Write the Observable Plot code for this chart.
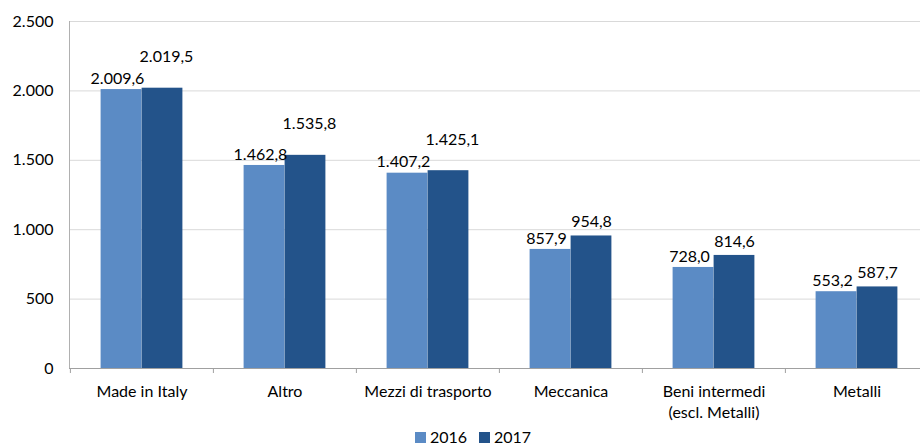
<!DOCTYPE html>
<html>
<head>
<meta charset="utf-8">
<script src="https://cdn.jsdelivr.net/npm/d3@7"></script>
<script src="https://cdn.jsdelivr.net/npm/@observablehq/plot@0.6"></script>
<style>
  body { margin: 0; background: #fff; font-family: Lato, "Open Sans", sans-serif; }
  #wrap { width: 920px; height: 445px; position: relative; overflow: hidden; }
  #legend { position: absolute; top: 429px; left: 0; width: 920px; height: 16px; display: flex; justify-content: center; align-items: center; font-size: 16px; color: #000; line-height: 16px; padding-left: 26px; box-sizing: border-box; }
  .sw { display: inline-block; width: 11px; height: 11px; margin-right: 4px; }
  .item { display: flex; align-items: center; margin: 0 6px; }
</style>
</head>
<body>
<div id="wrap"><div id="chart"></div><div id="legend"></div></div>
<script>
const categories = ["Made in Italy", "Altro", "Mezzi di trasporto", "Meccanica", "Beni intermedi\n(escl. Metalli)", "Metalli"];
const years = ["2016", "2017"];
const values2016 = [2009.6, 1462.8, 1407.2, 857.9, 728.0, 553.2];
const values2017 = [2019.5, 1535.8, 1425.1, 954.8, 814.6, 587.7];
const yTicks = [0, 500, 1000, 1500, 2000, 2500];
const colors = ["#5b8bc5", "#23538a"];

const it = d3.formatLocale({decimal: ",", thousands: ".", grouping: [3], currency: ["€", ""]});
const fmtVal = it.format(",.1f");
const fmtTick = it.format(",d");

const d2016 = categories.map((c, i) => ({category: c, year: "2016", value: values2016[i]}));
const d2017 = categories.map((c, i) => ({category: c, year: "2017", value: values2017[i]}));

const W = 920, H = 428, mL = 69, mR = 0, mT = 21, mB = 60;
const xRange = [69.4, 928.6];
const bw = (xRange[1] - xRange[0]) / categories.length;
const barW = 41;
const font = "Lato, 'Open Sans', sans-serif";

const chart = Plot.plot({
  width: W, height: H,
  marginLeft: mL, marginRight: mR, marginTop: mT, marginBottom: mB,
  style: {fontFamily: font, fontSize: "16px", color: "#000", background: "#fff"},
  x: {domain: categories, padding: 0, range: xRange, label: null},
  y: {domain: [0, 2500], label: null},
  marks: [
    Plot.gridY(yTicks, {stroke: "#d9d9d9", strokeOpacity: 1}),
    Plot.frame({anchor: "left", stroke: "#b0b0b0"}),
    Plot.barY(d2016, {x: "category", y: "value", fill: colors[0], insetLeft: bw / 2 - barW, insetRight: bw / 2}),
    Plot.barY(d2017, {x: "category", y: "value", fill: colors[1], insetLeft: bw / 2, insetRight: bw / 2 - barW}),
    Plot.ruleY([0], {stroke: "#a0a0a0"}),
    Plot.ruleX(categories, {x: d => d, y1: 0, y2: 0, insetBottom: -5, dx: -bw / 2, stroke: "#a0a0a0"}),
    Plot.text(d2016, {x: "category", y: "value", text: d => fmtVal(d.value), dx: -barW / 2 - 4, dy: -11, fontSize: 16, fill: "#000"}),
    Plot.text(d2017.filter(d => d.value < 1000), {x: "category", y: "value", text: d => fmtVal(d.value), dx: barW / 2, dy: -14, fontSize: 16, fill: "#000"}),
    Plot.text(d2017.filter(d => d.value >= 1000), {x: "category", y: "value", text: d => fmtVal(d.value), dx: barW / 2 + 4, dy: -31, fontSize: 16, fill: "#000"}),
    Plot.axisY(yTicks, {tickSize: 0, tickPadding: 16, tickFormat: fmtTick, fontSize: 16, label: null}),
    Plot.axisX({tickSize: 0, tickPadding: 13, lineHeight: 1.35, fontSize: 16, label: null})
  ]
});
document.getElementById("chart").appendChild(chart);

const legend = document.getElementById("legend");
years.forEach((y, i) => {
  const el = document.createElement("span");
  el.className = "item";
  el.innerHTML = `<span class="sw" style="background:${colors[i]}"></span>${y}`;
  legend.appendChild(el);
});
</script>
</body>
</html>
